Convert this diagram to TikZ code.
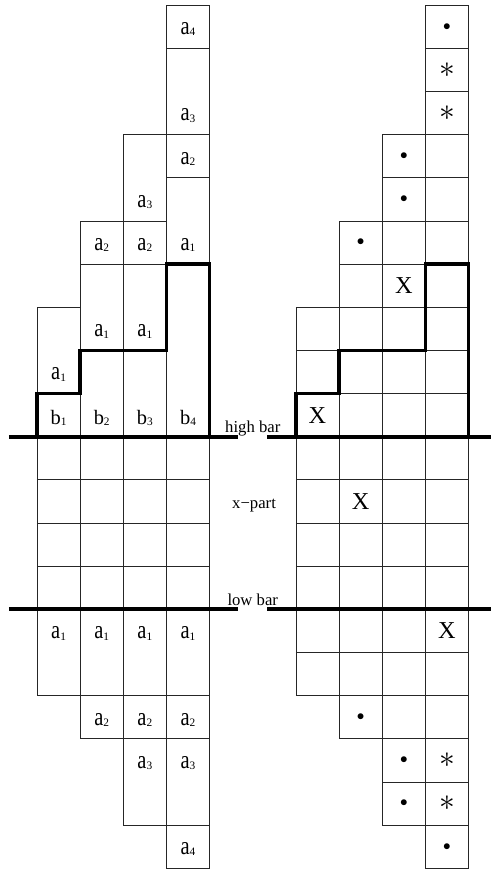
\documentclass[tikz,border=0pt]{standalone}
\usepackage{fontspec}
\setmainfont{Liberation Serif}
\usepackage{graphicx}
\newcommand{\subn}[1]{\raisebox{-0.8pt}{\fontsize{7.5}{8}\selectfont #1}}
\newcommand{\albl}[1]{\scalebox{1}[1.25]{a}\subn{#1}}
\newcommand{\blbl}[1]{b\subn{#1}}
\begin{document}
\begin{tikzpicture}[x=1cm,y=1cm,
  gridline/.style={line width=0.55pt,black!85},
  stair/.style={line width=2.3pt,line join=miter},
  barline/.style={line width=2.7pt},
  lab/.style={inner sep=0pt,font=\fontsize{13.5}{15}\selectfont},
  bigx/.style={inner sep=0pt,font=\fontsize{16}{18}\selectfont},
  dotmark/.style={inner sep=0pt,font=\fontsize{10}{12}\selectfont},
  astmark/.style={inner sep=0pt,font=\fontsize{20}{22}\selectfont},
  barlabel/.style={inner sep=0pt,anchor=base,font=\fontsize{11}{13}\selectfont}]
\useasboundingbox (-0.857,-10.04) rectangle (10.52,10.12);
% column outlines and right grid
\foreach \c/\lo/\hi in {0/-6/3,1/-7/5,2/-9/7,3/-10/10} {
  \draw[gridline] (\c,\lo) rectangle (\c+1,\hi);
  \draw[gridline] (\c+6,\lo) rectangle (\c+7,\hi);
  \foreach \y in {\lo,...,\hi} \draw[gridline] (\c+6,\y) -- (\c+7,\y);
}
% left horizontal box boundaries
\foreach \c/\ys in {0/{-1,-2,-3},1/{4,2,-1,-2,-3,-6},2/{5,4,2,-1,-2,-3,-6,-7},3/{9,7,6,4,-1,-2,-3,-6,-7,-9}} {
  \foreach \y in \ys \draw[gridline] (\c,\y) -- (\c+1,\y);
}
% staircases
\foreach \dx in {0,6}
  \draw[stair] (\dx,0) -- (\dx,1) -- (\dx+1,1) -- (\dx+1,2) -- (\dx+3,2) -- (\dx+3,4) -- (\dx+4,4) -- (\dx+4,0);
% bars
\coordinate (hbL1) at (-0.65,0); \coordinate (hbL2) at (4.66,0);
\coordinate (hbR1) at (5.34,0); \coordinate (hbR2) at (10.52,0);
\coordinate (lbL1) at (-0.65,-4); \coordinate (lbL2) at (4.66,-4);
\coordinate (lbR1) at (5.34,-4); \coordinate (lbR2) at (10.52,-4);
\draw[barline] (hbL1) -- (hbL2);
\draw[barline] (hbR1) -- (hbR2);
\draw[barline] (lbL1) -- (lbL2);
\draw[barline] (lbR1) -- (lbR2);
% bar labels
\node[barlabel] (highbar) at (5.0,0.1) {high bar};
\node[barlabel] (xpart) at (5.03,-1.66) {x−part};
\node[barlabel] (lowbar) at (5.0,-3.9) {low bar};
% left labels, upper part
\node[lab] (b1) at (0.5,0.44) {\blbl{1}};
\node[lab] (b2) at (1.5,0.44) {\blbl{2}};
\node[lab] (b3) at (2.5,0.44) {\blbl{3}};
\node[lab] (b4) at (3.5,0.44) {\blbl{4}};
\node[lab] (u01) at (0.5,1.44) {\albl{1}};
\node[lab] (u11) at (1.5,2.44) {\albl{1}};
\node[lab] (u12) at (1.5,4.44) {\albl{2}};
\node[lab] (u21) at (2.5,2.44) {\albl{1}};
\node[lab] (u22) at (2.5,4.44) {\albl{2}};
\node[lab] (u23) at (2.5,5.44) {\albl{3}};
\node[lab] (u31) at (3.5,4.44) {\albl{1}};
\node[lab] (u32) at (3.5,6.44) {\albl{2}};
\node[lab] (u33) at (3.5,7.44) {\albl{3}};
\node[lab] (u34) at (3.5,9.44) {\albl{4}};
% left labels, lower part
\node[lab] (d01) at (0.5,-4.56) {\albl{1}};
\node[lab] (d11) at (1.5,-4.56) {\albl{1}};
\node[lab] (d12) at (1.5,-6.56) {\albl{2}};
\node[lab] (d21) at (2.5,-4.56) {\albl{1}};
\node[lab] (d22) at (2.5,-6.56) {\albl{2}};
\node[lab] (d23) at (2.5,-7.56) {\albl{3}};
\node[lab] (d31) at (3.5,-4.56) {\albl{1}};
\node[lab] (d32) at (3.5,-6.56) {\albl{2}};
\node[lab] (d33) at (3.5,-7.56) {\albl{3}};
\node[lab] (d34) at (3.5,-9.56) {\albl{4}};
% right marks
\node[bigx] (x1) at (6.5,0.5) {X};
\node[bigx] (x2) at (8.5,3.5) {X};
\node[bigx] (x3) at (7.5,-1.5) {X};
\node[bigx] (x4) at (9.5,-4.5) {X};
\node[dotmark] (p1) at (7.5,4.5) {$\bullet$};
\node[dotmark] (p2) at (8.5,6.5) {$\bullet$};
\node[dotmark] (p3) at (8.5,5.5) {$\bullet$};
\node[dotmark] (p4) at (9.5,9.5) {$\bullet$};
\node[dotmark] (p5) at (7.5,-6.5) {$\bullet$};
\node[dotmark] (p6) at (8.5,-7.5) {$\bullet$};
\node[dotmark] (p7) at (8.5,-8.5) {$\bullet$};
\node[dotmark] (p8) at (9.5,-9.5) {$\bullet$};
\node[astmark] (s1) at (9.5,8.5) {$\ast$};
\node[astmark] (s2) at (9.5,7.5) {$\ast$};
\node[astmark] (s3) at (9.5,-7.5) {$\ast$};
\node[astmark] (s4) at (9.5,-8.5) {$\ast$};
\end{tikzpicture}
\end{document}
